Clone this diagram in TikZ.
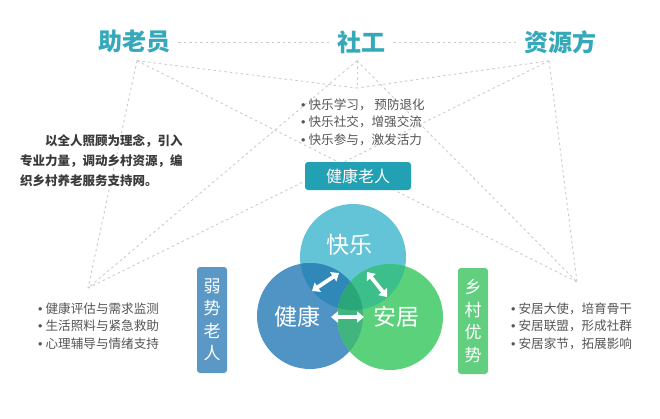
\documentclass[tikz,border=0pt]{standalone}
\usepackage{fontspec}
\setmainfont{Noto Sans CJK SC}
\newfontfamily\bulfont{Liberation Sans}
\usetikzlibrary{arrows.meta}
\definecolor{titleteal}{HTML}{35A9B9}
\definecolor{boxteal}{HTML}{22A0B4}
\definecolor{dotgray}{HTML}{CCCCCC}
\definecolor{txtgray}{HTML}{555555}
\definecolor{txtdark}{HTML}{3A3A3A}
\definecolor{klc}{HTML}{62C4D6}
\definecolor{jkc}{HTML}{5093C5}
\definecolor{ajc}{HTML}{5BD17C}
\definecolor{kljk}{HTML}{3088B8}
\definecolor{klaj}{HTML}{3DBF8B}
\definecolor{jkaj}{HTML}{42B47D}
\definecolor{allc}{HTML}{2AA67A}
\definecolor{weakc}{HTML}{5B98C6}
\definecolor{ruralc}{HTML}{62CF80}
\newcommand{\bu}{{\bulfont\textbullet}\hspace{3pt}}
\tikzset{
  titletext/.style={inner sep=0pt, text=titleteal, font=\fontsize{24}{28}\selectfont\bfseries},
  dotline/.style={draw=dotgray, line width=0.9pt, dash pattern=on 2.5pt off 3pt},
  bullets/.style={inner sep=0pt, align=left, text=txtgray, font=\fontsize{12.6}{17.5}\selectfont},
  vbox/.style={rounded corners=3pt, minimum width=30pt, minimum height=106pt, inner sep=0pt, text=white, align=center, font=\fontsize{17}{22.5}\selectfont},
  circtext/.style={inner sep=0pt, text=white, font=\fontsize{23}{26}\selectfont},
  warrow/.style={draw=white, line width=3.8pt, {Triangle[width=11pt,length=7pt]}-{Triangle[width=11pt,length=7pt]}},
}
\begin{document}
\begin{tikzpicture}[x=1pt,y=-1pt]
\useasboundingbox (0,0) rectangle (660,418);
\fill[white] (0,0) rectangle (660,418);
% titles
\node[titletext] (zly) at (134,42) {助老员};
\node[titletext] (sg) at (361,42) {社工};
\node[titletext] (zyf) at (560,42) {资源方};
\coordinate (a1) at ([xshift=3pt,yshift=-7pt]zly.south);
\coordinate (a2) at ([xshift=-4pt,yshift=-7pt]sg.south);
\coordinate (a3) at ([xshift=-11pt,yshift=-7pt]zyf.south);
\coordinate (L) at (88,288);
\coordinate (M) at (357,88);
\coordinate (R) at (577,282);
% dotted connectors
\draw[dotline, shorten <=8pt, shorten >=8pt] (zly.east) -- (sg.west);
\draw[dotline, shorten <=8pt, shorten >=8pt] (sg.east) -- (zyf.west);
\foreach \s in {a1,a2,a3}{
  \draw[dotline] (\s) -- (L);
  \draw[dotline] (\s) -- (M);
  \draw[dotline] (\s) -- (R);
}
% top bullets
\node[bullets, anchor=west] (tb) at (301,122) {\bu 快乐学习， 预防退化\\\bu 快乐社交，增强交流\\\bu 快乐参与，激发活力};
% healthy elderly box
\node[fill=boxteal, rounded corners=3pt, minimum width=106pt, minimum height=28pt, inner sep=0pt, text=white, font=\fontsize{16}{18}\selectfont] (jklr) at (358,176) {健康老人};
% left paragraph
\node[inner sep=0pt, align=left, text=txtdark, font=\fontsize{12.5}{20}\selectfont\bfseries, anchor=west] (para) at (20,161) {\hspace*{2em}以全人照顾为理念，引入\\专业力量，调动乡村资源，编\\织乡村养老服务支持网。};
% left and right bullets
\node[bullets, anchor=west] (lb) at (38,326) {\bu 健康评估与需求监测\\\bu 生活照料与紧急救助\\\bu 心理辅导与情绪支持};
\node[bullets, anchor=west] (rb) at (511,326) {\bu 安居大使，培育骨干\\\bu 安居联盟，形成社群\\\bu 安居家节，拓展影响};
% vertical boxes
\node[vbox, fill=weakc] (weak) at (212,320) {弱\\势\\老\\人};
\node[vbox, fill=ruralc] (rural) at (473,321) {乡\\村\\优\\势};
% circles
\node[circle, minimum size=106pt, inner sep=0pt, fill=klc] (kl) at (353,257) {};
\node[circle, minimum size=106pt, inner sep=0pt, fill=jkc] (jk) at (310,316) {};
\node[circle, minimum size=106pt, inner sep=0pt, fill=ajc] (aj) at (390,317) {};
\begin{scope}
  \clip (kl.center) circle[radius=53pt];
  \fill[kljk] (jk.center) circle[radius=53pt];
  \fill[klaj] (aj.center) circle[radius=53pt];
\end{scope}
\begin{scope}
  \clip (jk.center) circle[radius=53pt];
  \fill[jkaj] (aj.center) circle[radius=53pt];
  \clip (aj.center) circle[radius=53pt];
  \fill[allc] (kl.center) circle[radius=53pt];
\end{scope}
\node[circtext] (klt) at (349,245) {快乐};
\node[circtext] (jkt) at (297,317) {健康};
\node[circtext] (ajt) at (396,317) {安居};
% arrows
\coordinate (p1) at (312,291);
\coordinate (p2) at (339,273);
\coordinate (p3) at (367,272);
\coordinate (p4) at (387,297);
\coordinate (p5) at (331,317);
\coordinate (p6) at (364,317);
\draw[warrow] (p1) -- (p2);
\draw[warrow] (p3) -- (p4);
\draw[warrow] (p5) -- (p6);
\end{tikzpicture}
\end{document}
